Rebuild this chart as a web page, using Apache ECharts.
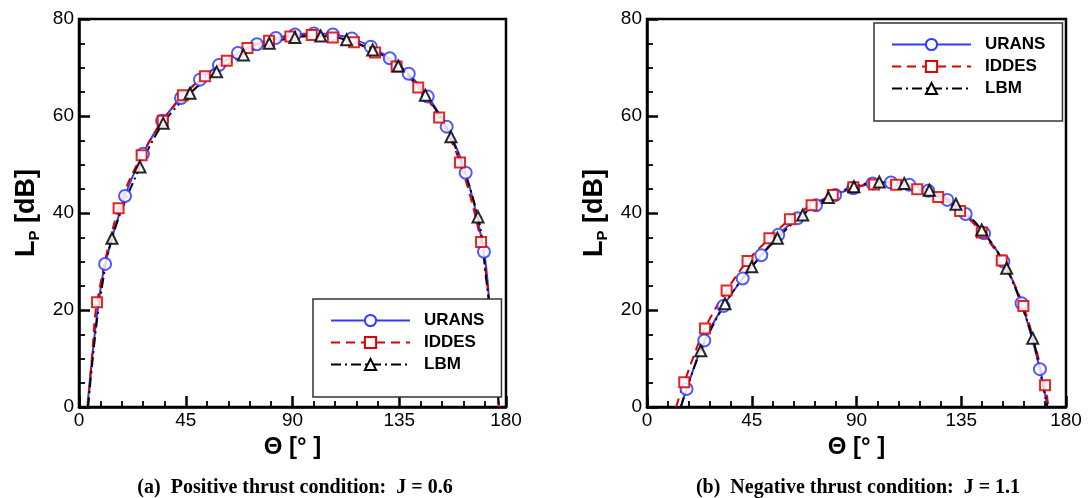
<!DOCTYPE html>
<html><head><meta charset="utf-8">
<script src="https://cdn.jsdelivr.net/npm/echarts@6/dist/echarts.min.js"></script>
<style>html,body{margin:0;padding:0;background:#fff}#c{width:1091px;height:498px}</style>
</head><body><div id="c"></div>
<script>
// ---- data: [theta (deg), Lp (dB)] ----
const seriesNames = ['URANS', 'IDDES', 'LBM'];
const xRange = [0, 180], xStep = 45;
const yRange = [0, 80], yStep = 20;

// (a) J = 0.6
const uransA_marks = [[11,29.5],[19.4,43.5],[27,52.2],[35,59],[43,63.7],[51,67.5],[59,70.5],[67,73],[75,74.8],[83,76.1],[91,76.8],[99,77],[107,76.8],[115,76],[123,74.3],[131,71.9],[139,68.7],[147,64],[155,57.8],[163,48.3],[170.7,32]];
const uransA_start = [[3.5,0],[5.5,10],[8,20.5]];
const uransA_end = [[173.3,20],[175.5,10],[177,0]];
const iddesA_marks = [[7.6,21.6],[16.7,41],[26.4,51.9],[35.3,59],[43.8,64.3],[53.1,68.2],[62.3,71.4],[71,74],[80.1,75.5],[89.1,76.4],[98.1,76.7],[107,76.2],[115.9,75.2],[124.8,73.1],[133.9,70.2],[143,65.9],[151.8,59.7],[160.6,50.4],[169.5,34]];
const iddesA_start = [[3.8,0],[5.6,11]];
const iddesA_end = [[173.5,19],[175.6,9],[177,0]];
const lbmA_marks = [[13.9,34.8],[25.7,49.5],[35.5,58.5],[46.8,64.7],[58,69.1],[69.3,72.6],[80.2,75],[91,76.2],[101.9,76.5],[112.8,75.7],[123.8,73.6],[134.6,70.3],[146,64.3],[156.8,55.7],[168.2,39.2]];
const lbmA_start = [[3.8,0],[6,11],[8.5,21]];
const lbmA_end = [[171.5,27],[174.5,14],[177,0]];

// (b) J = 1.1
const uransB_marks = [[17,3.7],[24.6,13.7],[32.8,20.8],[41.1,26.5],[49.1,31.3],[56.4,35.5],[64.6,38.9],[72.6,41.6],[80.8,43.7],[88.6,45.1],[96.9,46.1],[104.8,46.3],[112.7,45.8],[120.8,44.6],[129,42.7],[136.9,39.8],[144.8,35.8],[153.1,30],[160.9,21.4],[168.8,7.8]];
const uransB_start = [[14.5,0]];
const uransB_end = [[172,0]];
const iddesB_marks = [[16,5.1],[24.9,16.2],[34.2,24],[43.2,30.1],[52.6,34.8],[61.4,38.7],[70.7,41.6],[79.8,43.7],[88.6,45.3],[97.6,45.9],[107,45.8],[116.1,44.9],[125.1,43.3],[134.5,40.4],[143.8,36],[152.4,30.2],[161.7,20.8],[171,4.5]];
const iddesB_start = [[12.5,0]];
const iddesB_end = [[172.4,0]];
const lbmB_marks = [[23.1,11.6],[33.5,21.3],[45,28.9],[56,34.8],[66.9,39.6],[77.9,43.2],[88.9,45.4],[99.8,46.4],[110.5,46.1],[121.3,44.7],[132.7,41.8],[143.8,36.5],[154.5,28.6],[165.7,14.2]];
const lbmB_start = [[14.5,0],[18.5,5.8]];
const lbmB_end = [[169,7],[172,0]];

// ---- styles ----
const SANS = 'Liberation Sans, Arial, sans-serif';
const SERIF = 'Liberation Serif, Times New Roman, serif';
const TICK = '#000';
const styles = {
  URANS: {color: '#2f3cff', type: 'solid', symbol: 'emptyCircle', size: 12},
  IDDES: {color: '#e00000', type: [9, 6], symbol: 'emptyRect', size: 10},
  LBM:   {color: '#000000', type: [10, 4, 2, 4], symbol: 'emptyTriangle', size: 11}
};

function lineSeries(name, idx, data) {
  const s = styles[name];
  return {
    type: 'line', name, xAxisIndex: idx, yAxisIndex: idx, data,
    smooth: 0.35, showSymbol: false, symbol: s.symbol, symbolSize: s.size,
    itemStyle: {color: s.color, borderColor: s.color, borderWidth: 1},
    lineStyle: {color: s.color, width: 2, type: s.type},
    animation: false, z: 2
  };
}
function markSeries(name, idx, data) {
  const s = styles[name];
  return {
    type: 'scatter', name, xAxisIndex: idx, yAxisIndex: idx, data,
    symbol: s.symbol, symbolSize: s.size,
    itemStyle: {color: s.color, borderColor: s.color, borderWidth: 1, opacity: 0.85},
    animation: false, z: 3
  };
}
function xAxis(idx) {
  return {
    type: 'value', gridIndex: idx, min: xRange[0], max: xRange[1], interval: xStep,
    name: 'Θ [° ]', nameLocation: 'middle', nameGap: 22,
    nameTextStyle: {fontFamily: SANS, fontWeight: 'bold', fontSize: 24, color: '#000'},
    axisLine: {show: true, onZero: false, lineStyle: {color: '#000', width: 2.5}}, splitLine: {show: false},
    axisTick: {show: true, inside: true, length: 11, lineStyle: {color: TICK, width: 2.5}},
    minorTick: {show: true, splitNumber: 5, length: 6, lineStyle: {color: TICK, width: 1.8}},
    axisLabel: {fontFamily: SANS, fontSize: 19, color: '#000', margin: 4}
  };
}
function yAxis(idx) {
  return {
    type: 'value', gridIndex: idx, min: yRange[0], max: yRange[1], interval: yStep,
    name: '{a|L}{b|P}{a| [dB]}', nameLocation: 'middle', nameGap: 37, nameRotate: 90,
    nameTextStyle: {rich: {
      a: {fontFamily: SANS, fontWeight: 'bold', fontSize: 27, color: '#000', lineHeight: 30},
      b: {fontFamily: SANS, fontWeight: 'bold', fontSize: 15, color: '#000', lineHeight: 17, verticalAlign: 'bottom'}
    }},
    axisLine: {show: true, onZero: false, lineStyle: {color: '#000', width: 2.5}}, splitLine: {show: false},
    axisTick: {show: true, inside: true, length: 11, lineStyle: {color: TICK, width: 2.5}},
    minorTick: {show: true, splitNumber: 4, length: 6, lineStyle: {color: TICK, width: 1.8}},
    axisLabel: {fontFamily: SANS, fontSize: 19, color: '#000', margin: 5}
  };
}
function legend(left, top) {
  return {
    left, top, orient: 'vertical', data: seriesNames,
    borderColor: '#333', borderWidth: 1.5, backgroundColor: '#fff', borderRadius: 0,
    padding: [13, 17, 24, 17], itemWidth: 79, itemHeight: 14, itemGap: 5,
    selectedMode: false,
    textStyle: {fontFamily: SANS, fontWeight: 'bold', fontSize: 17, color: '#000', padding: [0, 0, 0, 9]}
  };
}

const chart = echarts.init(document.getElementById('c'));
const capRich = {
  r: {fontFamily: SERIF, fontSize: 20, color: '#000'},
  b: {fontFamily: SERIF, fontSize: 20, fontWeight: 'bold', color: '#000'}
};
const option = {
  backgroundColor: '#fff',
  animation: false,
  grid: [
    {left: 79, top: 19, width: 427, height: 388, show: true, borderColor: '#000', borderWidth: 2.5},
    {left: 647, top: 19, width: 419, height: 388, show: true, borderColor: '#000', borderWidth: 2.5}
  ],
  xAxis: [xAxis(0), xAxis(1)],
  yAxis: [yAxis(0), yAxis(1)],
  legend: [legend(313, 299), legend(874, 23)],
  title: [
    {text: '{r|(a)}  {b|Positive thrust condition:  J = 0.6}', left: 290, top: 473, textAlign: 'center', textStyle: {rich: capRich}},
    {text: '{r|(b)}  {b|Negative thrust condition:  J = 1.1}', left: 853, top: 473, textAlign: 'center', textStyle: {rich: capRich}}
  ],
  series: [
    lineSeries('URANS', 0, uransA_start.concat(uransA_marks, uransA_end)),
    lineSeries('IDDES', 0, iddesA_start.concat(iddesA_marks, iddesA_end)),
    lineSeries('LBM', 0, lbmA_start.concat(lbmA_marks, lbmA_end)),
    markSeries('URANS', 0, uransA_marks),
    markSeries('IDDES', 0, iddesA_marks),
    markSeries('LBM', 0, lbmA_marks),
    lineSeries('URANS', 1, uransB_start.concat(uransB_marks, uransB_end)),
    lineSeries('IDDES', 1, iddesB_start.concat(iddesB_marks, iddesB_end)),
    lineSeries('LBM', 1, lbmB_start.concat(lbmB_marks, lbmB_end)),
    markSeries('URANS', 1, uransB_marks),
    markSeries('IDDES', 1, iddesB_marks),
    markSeries('LBM', 1, lbmB_marks)
  ]
};
chart.setOption(option);
</script></body></html>
